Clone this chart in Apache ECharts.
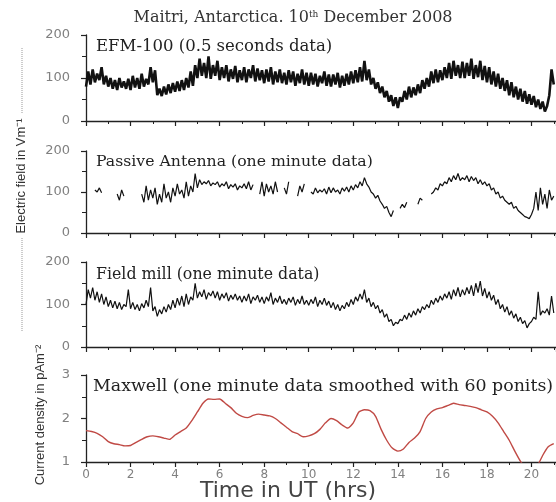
<!DOCTYPE html>
<html>
<head>
<meta charset="utf-8">
<script src="https://cdn.jsdelivr.net/npm/echarts@6/dist/echarts.min.js"></script>
<style>html,body{margin:0;padding:0;background:#fff}#c{width:556px;height:502px}</style>
</head>
<body>
<div id="c"></div>
<script>
// ---- Data ----
const titleText = 'Maitri, Antarctica. 10';
const panelLabels = ['EFM-100 (0.5 seconds data)', 'Passive Antenna (one minute data)', 'Field mill (one minute data)', 'Maxwell (one minute data smoothed with 60 ponits)'];
const xTickLabels = [0, 2, 4, 6, 8, 10, 12, 14, 16, 18, 20];
const xMax = 21.1; // right edge of the (cropped) picture
const efieldTicks = [0, 100, 200];
const currentTicks = [1, 2, 3];

// EFM-100, samples every 0.1 h (alternating upper/lower envelope of noisy band), V/m
const efmStep = 0.1;
const efm = [
  80,115,85,120,90,110,95,125,85,105,
  80,100,75,95,72,100,78,92,75,98,
  72,105,78,100,75,110,80,98,85,125,
  90,118,60,75,58,80,62,85,65,88,
  68,92,70,95,72,100,78,115,82,130,
  100,145,105,135,100,150,98,130,105,140,
  95,125,100,130,92,120,98,128,90,118,
  95,125,90,120,100,130,92,122,95,118,
  88,120,92,125,85,115,90,120,88,112,
  85,118,90,115,82,110,88,120,85,112,
  82,112,85,110,80,105,88,115,82,108,
  80,108,85,112,78,105,82,110,85,115,
  88,118,90,125,92,140,95,120,85,100,
  75,90,65,80,55,70,45,60,35,55,
  30,55,45,70,50,80,55,78,60,85,
  65,95,75,100,80,115,88,120,90,118,
  95,125,100,135,98,140,105,130,100,138,
  100,135,105,145,98,130,102,140,95,128,
  90,125,85,115,80,110,75,100,70,95,
  60,90,55,80,50,75,45,70,40,62,
  38,58,32,50,28,45,22,35,60,120,
  85
];

// Passive antenna, every 0.1 h, '-' = missing
const passiveStep = 0.1;
const passive = [
  85,'-','-','-',105,100,110,98,'-','-',
  '-','-','-','-',95,80,105,90,'-','-',
  '-','-','-','-','-',95,75,115,80,105,
  85,110,70,95,75,120,85,100,75,110,
  90,120,95,105,85,125,90,115,100,145,
  110,130,118,125,120,128,115,122,118,125,
  112,120,115,125,108,118,112,120,105,115,
  110,120,108,125,105,118,'-','-',95,125,
  90,120,100,115,95,125,100,'-','-',110,
  95,125,'-','-','-',90,115,100,120,'-',
  '-',100,95,110,98,105,100,108,95,112,
  98,110,100,105,95,110,102,112,100,115,
  105,118,110,125,115,135,120,112,100,95,
  85,92,78,70,60,65,50,40,55,'-',
  '-',60,70,62,75,'-','-','-','-',70,
  85,80,'-','-','-',95,100,110,105,120,
  115,125,120,135,125,140,130,145,128,135,
  130,140,125,138,128,135,120,130,118,125,
  115,120,105,110,95,100,85,90,80,75,
  70,75,60,65,55,50,45,40,38,35,
  45,60,100,55,110,70,95,60,105,80,
  90
];

// Field mill, every 0.1 h
const fieldStep = 0.1;
const fieldMill = [
  100,135,115,140,110,130,105,125,100,118,
  95,110,92,108,90,105,88,100,95,135,
  90,105,88,100,85,102,92,110,95,140,
  85,95,72,88,78,95,82,100,88,110,
  92,115,98,120,95,125,100,118,110,150,
  115,130,118,135,112,128,120,132,115,130,
  110,125,115,128,108,122,112,125,110,120,
  105,120,108,125,102,118,110,122,105,118,
  102,118,108,128,100,115,105,120,102,112,
  100,115,105,118,98,112,102,120,100,110,
  98,112,102,118,95,110,100,115,98,108,
  92,105,88,100,85,98,90,105,95,112,
  100,118,108,125,112,135,105,115,95,105,
  90,98,80,88,70,78,60,65,50,58,
  55,65,62,75,65,80,70,85,75,90,
  80,95,88,100,92,110,100,115,105,120,
  110,125,115,130,112,135,120,140,118,135,
  122,140,125,145,120,150,128,155,120,138,
  115,130,110,122,100,112,90,100,82,95,
  75,85,68,78,60,70,55,62,45,55,
  60,70,65,130,75,85,80,90,75,120,
  80
];

// Maxwell current density, every 0.25 h, pA/m^2
const maxwellStep = 0.25;
const maxwell = [
  1.72,1.70,1.66,1.58,
  1.47,1.42,1.40,1.37,
  1.38,1.45,1.52,1.58,
  1.60,1.58,1.55,1.52,
  1.62,1.70,1.78,1.95,
  2.15,2.35,2.45,2.44,
  2.45,2.35,2.25,2.12,
  2.05,2.02,2.07,2.10,
  2.08,2.06,2.00,1.90,
  1.80,1.70,1.65,1.58,
  1.60,1.65,1.75,1.90,
  2.00,1.95,1.85,1.78,
  1.90,2.15,2.20,2.18,
  2.05,1.75,1.50,1.32,
  1.25,1.30,1.45,1.55,
  1.70,2.00,2.15,2.22,
  2.25,2.30,2.35,2.32,
  2.30,2.28,2.25,2.20,
  2.15,2.05,1.90,1.70,
  1.50,1.25,1.02,0.85,
  0.80,0.90,1.15,1.35,
  1.42
];

function toXY(arr, step) {
  return arr.map((v, i) => [Math.round(i * step * 100) / 100, v]);
}

const chart = echarts.init(document.getElementById('c'), null, {renderer: 'canvas'});

const gridsPos = [
  {top: 35, height: 86},
  {top: 151, height: 82},
  {top: 262, height: 85},
  {top: 375, height: 87}
];
const gLeft = 86, gWidth = 470;

const axisColor = '#222';
const labelColor = '#808080';

const grids = gridsPos.map(p => ({left: gLeft, width: gWidth, top: p.top, height: p.height}));

const xAxes = gridsPos.map((p, i) => ({
  gridIndex: i, type: 'value', min: 0, max: xMax, interval: 2,
  axisLine: {lineStyle: {color: axisColor, width: 1.3}},
  axisTick: {show: true, length: 5, lineStyle: {color: axisColor, width: 1.2}},
  minorTick: {show: true, splitNumber: 2, length: 3, lineStyle: {color: axisColor, width: 1}},
  splitLine: {show: false}, minorSplitLine: {show: false},
  axisLabel: {show: i === 3, color: labelColor, fontSize: 12, fontFamily: 'DejaVu Sans', margin: 7,
    showMaxLabel: false,
    formatter: v => xTickLabels.indexOf(v) >= 0 ? String(v) : ''}
}));

const yAxes = gridsPos.map((p, i) => {
  const ticks = i === 3 ? currentTicks : efieldTicks;
  return {
    gridIndex: i, type: 'value', min: ticks[0], max: ticks[ticks.length - 1], interval: ticks[1] - ticks[0],
    axisLine: {show: true, lineStyle: {color: axisColor, width: 1.3}},
    axisTick: {show: true, length: 5, lineStyle: {color: axisColor, width: 1.2}},
    minorTick: {show: true, splitNumber: 2, length: 4, lineStyle: {color: axisColor, width: 1}},
    splitLine: {show: false}, minorSplitLine: {show: false},
    axisLabel: {color: labelColor, fontSize: 13, fontFamily: 'DejaVu Sans', margin: 16}
  };
});

const blackLine = (idx, data, w) => ({
  type: 'line', xAxisIndex: idx, yAxisIndex: idx, data: data, symbol: 'none',
  lineStyle: {color: '#111', width: w}, connectNulls: false, clip: true, animation: false
});

const series = [
  blackLine(0, toXY(efm, efmStep), 2.6),
  blackLine(1, toXY(passive, passiveStep), 1.2),
  blackLine(2, toXY(fieldMill, fieldStep), 1.2),
  {type: 'line', xAxisIndex: 3, yAxisIndex: 3, data: toXY(maxwell, maxwellStep), symbol: 'none', smooth: 0.2,
   lineStyle: {color: '#c04a45', width: 1.4}, clip: true, animation: false}
];

const labelTops = [47, 162, 275, 386];
const labelLefts = [96, 96, 96, 93];
const labelSizes = [16.5, 15.7, 15.8, 17.4];
const serif = '"DejaVu Serif"';

const graphic = [];
panelLabels.forEach((t, i) => {
  graphic.push({type: 'text', x: labelLefts[i], y: labelTops[i], z: 10,
    style: {text: t, font: labelSizes[i] + 'px ' + serif, fill: '#222', textVerticalAlign: 'middle'}});
});
graphic.push({type: 'text', x: 293, y: 18,
  style: {rich: {a: {font: '16px ' + serif, fill: '#333'}, s: {font: '9px ' + serif, fill: '#333', verticalAlign: 'top'}},
    text: '{a|' + titleText + '}{s|th}{a| December 2008}', textAlign: 'center', textVerticalAlign: 'middle'}});
graphic.push({type: 'text', x: 21, y: 176, rotation: Math.PI / 2,
  style: {text: 'Electric field in Vm⁻¹', font: '13px "Liberation Sans"', fill: '#333', textAlign: 'center', textVerticalAlign: 'middle'}});
graphic.push({type: 'text', x: 40, y: 415, rotation: Math.PI / 2,
  style: {text: 'Current density in pAm⁻²', font: '13px "Liberation Sans"', fill: '#333', textAlign: 'center', textVerticalAlign: 'middle'}});
graphic.push({type: 'line', shape: {x1: 22, y1: 48, x2: 22, y2: 114}, style: {stroke: '#999', lineWidth: 1, lineDash: [1, 1]}});
graphic.push({type: 'line', shape: {x1: 22, y1: 238, x2: 22, y2: 332}, style: {stroke: '#999', lineWidth: 1, lineDash: [1, 1]}});
graphic.push({type: 'text', x: 288, y: 491,
  style: {text: 'Time in UT (hrs)', font: '22px "DejaVu Sans"', fill: '#444', textAlign: 'center', textVerticalAlign: 'middle'}});

chart.setOption({
  backgroundColor: '#fff',
  animation: false,
  grid: grids, xAxis: xAxes, yAxis: yAxes, series: series, graphic: graphic
});
</script>
</body>
</html>
